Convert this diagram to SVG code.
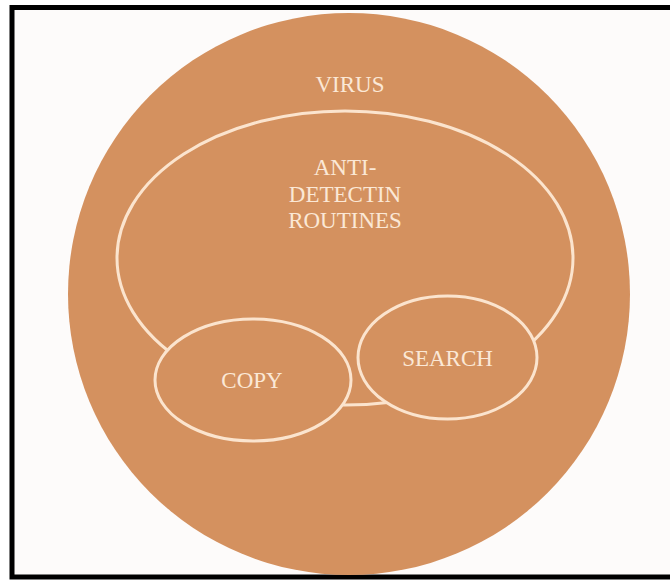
<svg xmlns="http://www.w3.org/2000/svg" width="670" height="580" viewBox="0 0 670 580">
<style>
.frame{fill:#FDFBFA;stroke:#000;stroke-width:5}
.outer{fill:#D4915F}
.ring{fill:none;stroke:#FBE4CE;stroke-width:3}
.node{fill:#D4915F;stroke:#FBE4CE;stroke-width:3}
.lbl{font-family:"Liberation Serif","DejaVu Serif",serif;font-size:23px;fill:#FBE8D6;text-anchor:middle}
</style>
<rect width="670" height="580" fill="#FFFFFF"/>
<rect class="frame" x="12" y="7.5" width="690" height="569.5"/>
<g id="virus">
<ellipse class="outer" cx="349" cy="294" rx="281" ry="281"/>
<text class="lbl" x="350" y="92">VIRUS</text>
</g>
<g id="anti-detection">
<ellipse class="ring" cx="345" cy="258" rx="228" ry="147"/>
<text class="lbl" x="345" y="175">ANTI-</text>
<text class="lbl" x="345" y="202">DETECTIN</text>
<text class="lbl" x="345" y="228">ROUTINES</text>
</g>
<g id="copy">
<ellipse class="node" cx="253" cy="380" rx="98" ry="61"/>
<text class="lbl" x="252" y="388">COPY</text>
</g>
<g id="search">
<ellipse class="node" cx="447.5" cy="357.5" rx="89.5" ry="61.5"/>
<text class="lbl" x="447.5" y="366">SEARCH</text>
</g>
<g id="connectors"/>
</svg>
